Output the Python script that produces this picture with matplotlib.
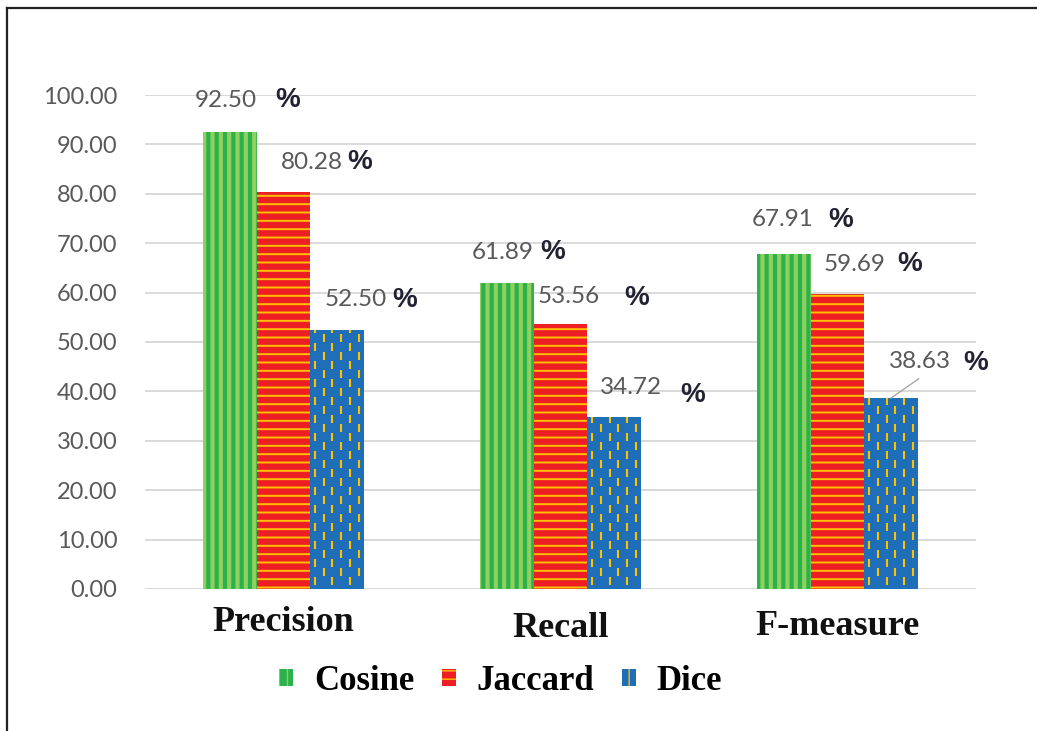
import numpy as np
import matplotlib.pyplot as plt
from matplotlib.patches import Patch
from matplotlib.lines import Line2D
from matplotlib.collections import LineCollection
from matplotlib.transforms import ScaledTranslation

categories = ['Precision', 'Recall', 'F-measure']
methods = ['Cosine', 'Jaccard', 'Dice']
cosine = [92.50, 61.89, 67.91]
jaccard = [80.28, 53.56, 59.69]
dice = [52.50, 34.72, 38.63]
yticks = np.arange(0, 101, 10)

# label offsets from the bar top (pixels): number dx, dy, percent dx, dy
label_off = {
    'Cosine':  [(-35, 32, 45, 32), (-35, 31, 33, 31), (-32, 34, 44, 34)],
    'Jaccard': [(-3, 30, 64, 30), (-23, 28, 64, 26), (-14, 30, 60, 30)],
    'Dice':    [(-12, 30, 55, 30), (-14, 30, 66, 22), (-2, 37, 72, 35)],
}

styles = {
    'Cosine':  dict(face='#2bb24c', hcol='#8fd05e', hatch='||', hlw=3.0),
    'Jaccard': dict(face='#ee1f24', hcol='#ffc000', hatch='--', hlw=1.4),
    'Dice':    dict(face='#1f6fb8', hcol='#ffc000', hatch=None, hlw=1.4),
}

fig = plt.figure(figsize=(10.37, 7.31), dpi=100)
ax = fig.add_axes([0.1398, 0.1943, 0.8014, 0.6757])

x = np.arange(len(categories))
w = 0.193
series = {'Cosine': cosine, 'Jaccard': jaccard, 'Dice': dice}
px = 0.72  # pixels -> points at 100 dpi

handles = []
for k, name in enumerate(methods):
    st = styles[name]
    vals = series[name]
    with plt.rc_context({'hatch.linewidth': st['hlw']}):
        bars = ax.bar(x + (k - 1) * w, vals, w, color=st['face'],
                      edgecolor=st['hcol'], hatch=st['hatch'], linewidth=0,
                      zorder=2)
        h = Patch(facecolor=st['face'], edgecolor=st['hcol'],
                  hatch=st['hatch'] or '||', linewidth=0)
        handles.append(h)
    for p in list(bars) + [h]:
        if hasattr(p, 'set_hatch_linewidth'):
            p.set_hatch_linewidth(st['hlw'])
    if name == 'Dice':
        # short staggered dashes inside the blue bars
        for b in bars:
            x0, bw, bh = b.get_x(), b.get_width(), b.get_height()
            dx = bw / 6
            period, dl = 3.64, 1.6
            segs = []
            for i in range(6):
                xc = x0 + (i + 0.5) * dx
                for y in np.arange(0.9 + (i % 2) * period / 2, bh, period):
                    segs.append([(xc, y), (xc, min(y + dl, bh))])
            ax.add_collection(LineCollection(segs, colors=st['hcol'],
                                             linewidths=1.5, zorder=3))
    for b, v, off in zip(bars, vals, label_off[name]):
        cx = b.get_x() + b.get_width() / 2
        ax.annotate(f'{v:.2f}', (cx, v), xytext=(off[0] * px, off[1] * px),
                    textcoords='offset points', ha='left', va='center',
                    fontsize=17.5, family='Lato', color='#595959',
                    annotation_clip=False)
        ax.annotate('%', (cx, v), xytext=(off[2] * px, off[3] * px),
                    textcoords='offset points', ha='left', va='center',
                    fontsize=20, family='Liberation Sans', weight='bold',
                    color='#222233', annotation_clip=False)
    if name == 'Dice':
        b = bars[2]
        ax.annotate('', (b.get_x() + b.get_width() / 2, vals[2]),
                    xytext=(20, 14), textcoords='offset points',
                    arrowprops=dict(arrowstyle='-', color='#a6a6a6', lw=1,
                                    shrinkA=0, shrinkB=0))

ax.set_xlim(-0.5, 2.5)
ax.set_ylim(0, 100)
ax.set_yticks(yticks)
ax.set_yticklabels([f'{t:.2f}' for t in yticks], family='Lato', fontsize=17,
                   color='#595959')
ax.yaxis.grid(True, color='#d9d9d9', lw=1.4, zorder=0)
ax.set_axisbelow(True)
ax.tick_params(axis='y', length=0, pad=20)
ax.set_xticks(x)
ax.set_xticklabels(categories, family='Liberation Serif', weight='bold',
                   fontsize=26, color='#111111')
ax.tick_params(axis='x', length=0, pad=12)
for lab, dy in zip(ax.get_xticklabels(), [0, 6, 4]):
    lab.set_transform(lab.get_transform() +
                      ScaledTranslation(0, -dy / 100, fig.dpi_scale_trans))
for s in ax.spines.values():
    s.set_visible(False)

fig.legend(handles, methods, loc='center', bbox_to_anchor=(0.483, 0.068),
           ncol=3, frameon=False, handlelength=0.4, handleheight=0.4,
           handletextpad=0.6, columnspacing=0.8,
           prop=dict(family='Liberation Serif', weight='bold', size=25))

# outer frame (left and top edges)
fig.add_artist(Line2D([0.0068, 0.0068], [0, 0.989], color='#222222', lw=1.6))
fig.add_artist(Line2D([0.0068, 1], [0.989, 0.989], color='#222222', lw=1.6))

fig.savefig('out.png', dpi=100, facecolor='white')
